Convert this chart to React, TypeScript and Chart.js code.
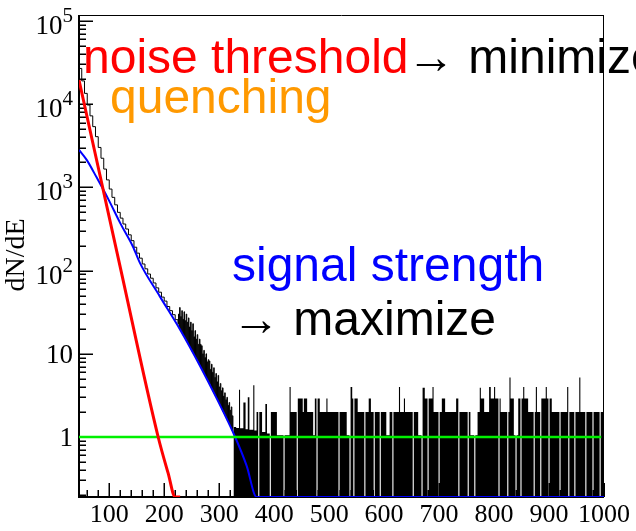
import React, { useEffect, useRef } from 'react';
import { Chart, registerables } from 'chart.js';

Chart.register(...registerables);

// ---- axis ranges & tick labels ----
const X_MIN = 45;
const X_MAX = 1000;
const Y_MIN = 0.19;
const Y_MAX = 1.18e5;
const X_TICK_LABELS = [100, 200, 300, 400, 500, 600, 700, 800, 900, 1000];
const Y_TICK_VALUES = [1, 10, 100, 1000, 10000, 100000];
const Y_TICK_BASE = ['1', '10', '10', '10', '10', '10'];
const Y_TICK_EXP = ['', '', '2', '3', '4', '5'];
const Y_TITLE = 'dN/dE';

// ---- black histogram: steep head (bin left edges / contents) ----
const HEAD_X = [45, 50, 55, 60, 65, 70, 75, 80, 85, 90, 95, 100, 105, 110, 115, 120, 125, 130, 135, 140, 145, 150, 155, 160, 165, 170, 175, 180, 185, 190, 195, 200, 205, 210, 215, 220, 225];
const HEAD_Y = [26900, 19050, 13490, 9770, 7240, 5370, 4070, 3020, 2240, 1660, 1230, 955, 759, 617, 501, 427, 363, 316, 269, 229, 191, 162, 141, 120, 105, 91, 81, 71, 62, 55, 48, 43, 37, 33, 29.5, 25.7, 22.9];

// ---- black histogram: noisy part, 1-unit bins starting at NOISE_START ----
const NOISE_START = 226;
const NOISE_BIN = 1;
const NOISE_Y = [
  30, 20.5, 36, 19.5, 28, 18.5, 33, 17.4, 26, 16.5,
  32, 15.6, 25, 14.8, 30, 14, 24, 13.2, 27, 12.5,
  21, 11.9, 24, 11.2, 19, 10.6, 23, 10.1, 16, 9.5,
  19, 9.0, 15, 8.5, 17, 8.1, 13, 7.6, 15, 7.2,
  13, 6.8, 12.5, 6.4, 10, 6.0, 11, 5.7, 9, 5.4,
  10, 5.0, 8, 4.8, 8.5, 4.5, 8.2, 4.3, 6.5, 4.0,
  7.5, 3.8, 6, 3.5, 6.8, 3.3, 5.2, 3.1, 5.8, 2.9,
  4.6, 2.77, 5.5, 2.6, 4.0, 2.44, 4.4, 2.3, 3.6, 2.15,
  3.9, 2.0, 3.1, 1.9, 3.4, 1.78, 2.8, 1.68, 3.0, 1.56,
  2.4, 1.47, 2.6, 1.38, 2.1, 1.3, 2.3, 1.2, 1.8, 1.15,
];

// ---- black histogram: flat tail (segment start / content, 0 = empty) ----
const TAIL_X = [326, 331, 336, 338, 344, 348, 352, 355, 362, 364, 368, 371, 373, 378, 384, 387, 392, 394, 405, 417, 419, 428, 430, 441, 443, 452, 454, 460, 471, 474, 477, 479, 483, 495, 497, 517, 519, 532, 537, 539, 542, 544, 546, 552, 564, 566, 572, 576, 581, 583, 592, 594, 604, 610, 615, 617, 627, 629, 636, 638, 652, 654, 662, 668, 670, 674, 679, 681, 688, 690, 699, 701, 705, 711, 731, 735, 737, 752, 754, 757, 764, 766, 770, 774, 776, 782, 791, 794, 800, 802, 808, 810, 812, 824, 826, 828, 830, 836, 839, 841, 844, 848, 850, 853, 855, 862, 872, 874, 876, 878, 884, 886, 894, 896, 899, 901, 905, 919, 921, 933, 935, 937, 946, 948, 955, 957, 966, 968, 979, 981, 992, 994, 1000];
const TAIL_Y = [1.32, 1.28, 3.7, 1.27, 2.6, 1.24, 3.0, 1.22, 4.2, 1.2, 2.0, 0, 2.0, 1.15, 2.5, 1.1, 0, 2.0, 1.05, 0, 1.05, 4.0, 2.0, 0, 2.9, 2.0, 2.9, 2.0, 1.05, 2.9, 0, 2.9, 2.0, 2.9, 2.0, 0, 2.0, 1.05, 0, 4.0, 2.9, 0, 2.9, 2.0, 0, 2.0, 2.9, 2.0, 0, 2.0, 0, 2.0, 1.05, 2.0, 0, 2.0, 4.0, 2.0, 2.9, 2.0, 0, 2.0, 1.05, 0, 3.9, 2.9, 0, 2.9, 4.0, 2.0, 0, 2.0, 2.9, 2.0, 2.9, 0, 2.0, 0, 2.0, 1.05, 0, 1.05, 2.0, 3.9, 2.9, 2.0, 4.0, 2.9, 4.0, 2.9, 0, 2.9, 2.0, 0, 2.0, 5.2, 2.9, 1.05, 0, 1.05, 2.9, 0, 2.9, 4.0, 2.9, 2.0, 0, 2.0, 4.0, 2.0, 0, 2.9, 4.0, 2.9, 0, 2.9, 2.0, 0, 2.0, 4.0, 0, 2.0, 0, 2.0, 5.2, 2.0, 0, 2.0, 0, 2.0, 0, 2.0, 2.0];

// ---- fitted components ----
const BLUE_X = [45, 59, 77, 99, 120, 143, 156, 192, 229, 265, 295, 329, 350, 368, 1000];
const BLUE_Y = [2820, 2140, 1320, 708, 372, 195, 123, 49, 19.5, 7.2, 2.95, 1.0, 0.45, 0.19, 0.19];
const RED_X = [45, 120, 189, 207, 220, 229];
const RED_Y = [19500, 110, 1.0, 0.37, 0.19, 0.19];
const GREEN_X = [45, 995];
const GREEN_Y = [1, 1];

// ---- annotations ----
const NOTES = [
  { text: 'noise threshold', color: '#ff0000', x: 83, y: 73 },
  { text: '→ minimize', color: '#000000', x: 407, y: 73 },
  { text: 'quenching', color: '#ff9900', x: 110, y: 113 },
  { text: 'signal strength', color: '#0000ff', x: 232, y: 281 },
  { text: '→ maximize', color: '#000000', x: 232, y: 335 },
];

const zip = (xs: number[], ys: number[]) => xs.map((x, i) => ({ x, y: ys[i] }));

const framePlugin = {
  id: 'rootFrame',
  beforeDatasetsDraw(chart: any) {
    const { ctx, chartArea, scales } = chart;
    const { left, right, top, bottom } = chartArea;
    const xs = scales.x;
    const ys = scales.y;
    ctx.save();
    ctx.strokeStyle = '#000';
    ctx.lineWidth = 1;
    ctx.beginPath();
    ctx.moveTo(left, top + 0.5);
    ctx.lineTo(right, top + 0.5);
    ctx.moveTo(right - 0.5, top);
    ctx.lineTo(right - 0.5, bottom);
    ctx.stroke();
    ctx.lineWidth = 2;
    ctx.beginPath();
    ctx.moveTo(left, top);
    ctx.lineTo(left, bottom);
    ctx.lineTo(right, bottom);
    ctx.stroke();
    ctx.lineWidth = 1.5;
    ctx.beginPath();
    for (let v = 60; v <= X_MAX; v += 20) {
      const px = Math.round(xs.getPixelForValue(v)) + 0.25;
      const len = v % 100 === 0 ? 14 : 7;
      ctx.moveTo(px, bottom);
      ctx.lineTo(px, bottom - len);
    }
    for (let d = -1; d <= 5; d++) {
      for (let k = 1; k <= 9; k++) {
        const v = k * Math.pow(10, d);
        if (v < Y_MIN || v > Y_MAX) continue;
        const py = Math.round(ys.getPixelForValue(v)) + 0.25;
        const len = k === 1 ? 14 : 7;
        ctx.moveTo(left, py);
        ctx.lineTo(left + len, py);
      }
    }
    ctx.stroke();
    ctx.restore();
  },
  afterDraw(chart: any) {
    const { ctx, scales } = chart;
    const ys = scales.y;
    ctx.save();
    ctx.fillStyle = '#000';
    const BASE_FONT = '27px "Liberation Serif"';
    const EXP_FONT = '21px "Liberation Serif"';
    Y_TICK_VALUES.forEach((v, i) => {
      const py = ys.getPixelForValue(v);
      const base = Y_TICK_BASE[i];
      const exp = Y_TICK_EXP[i];
      ctx.font = BASE_FONT;
      const bw = ctx.measureText(base).width;
      ctx.font = EXP_FONT;
      const ew = exp ? ctx.measureText(exp).width : 0;
      const rightEdge = 73;
      const baseY = exp ? py + 13 : py + 9.5;
      ctx.textBaseline = 'alphabetic';
      ctx.textAlign = 'left';
      ctx.font = BASE_FONT;
      ctx.fillText(base, rightEdge - ew - bw, baseY);
      if (exp) {
        ctx.font = EXP_FONT;
        ctx.fillText(exp, rightEdge - ew, baseY - 12);
      }
    });
    ctx.font = '28px "Liberation Serif"';
    ctx.textAlign = 'center';
    ctx.textBaseline = 'alphabetic';
    ctx.translate(24, 255);
    ctx.rotate(-Math.PI / 2);
    ctx.fillText(Y_TITLE, 0, 0);
    ctx.restore();

    ctx.save();
    ctx.font = '48px "Liberation Sans"';
    ctx.textAlign = 'left';
    ctx.textBaseline = 'alphabetic';
    NOTES.forEach((n) => {
      ctx.fillStyle = n.color;
      ctx.fillText(n.text, n.x, n.y);
    });
    ctx.restore();
  },
};

export default function App() {
  const canvasRef = useRef<HTMLCanvasElement | null>(null);

  useEffect(() => {
    const canvas = canvasRef.current;
    if (!canvas) return;

    const headPts = zip(HEAD_X, HEAD_Y).concat(
      NOISE_Y.map((y, i) => ({ x: NOISE_START + i * NOISE_BIN, y }))
    );
    const tailPts = TAIL_X.map((x, i) => ({ x, y: TAIL_Y[i] > 0 ? TAIL_Y[i] : Y_MIN / 4 }));

    const chart = new Chart(canvas, {
      type: 'line',
      data: {
        datasets: [
          {
            label: 'noise',
            data: zip(RED_X, RED_Y),
            borderColor: '#ff0000',
            borderWidth: 3,
            pointRadius: 0,
            fill: false,
            cubicInterpolationMode: 'monotone',
          },
          {
            label: 'background',
            data: zip(GREEN_X, GREEN_Y),
            borderColor: '#00f000',
            borderWidth: 2.5,
            pointRadius: 0,
            fill: false,
          },
          {
            label: 'signal',
            data: zip(BLUE_X, BLUE_Y),
            borderColor: '#0000ff',
            borderWidth: 2,
            pointRadius: 0,
            fill: false,
            cubicInterpolationMode: 'monotone',
          },
          {
            label: 'data head',
            data: headPts,
            borderColor: '#000000',
            borderWidth: 1,
            pointRadius: 0,
            fill: false,
            stepped: true,
          },
          {
            label: 'data tail',
            data: tailPts,
            borderColor: 'rgba(0,0,0,0)',
            borderWidth: 1,
            backgroundColor: '#000000',
            pointRadius: 0,
            fill: 'start',
            stepped: true,
          },
        ],
      },
      options: {
        animation: false,
        responsive: false,
        devicePixelRatio: 1,
        layout: { padding: { left: 0, right: 32, top: 15, bottom: 0 } },
        plugins: {
          legend: { display: false },
          tooltip: { enabled: false },
        },
        scales: {
          x: {
            type: 'linear',
            min: X_MIN,
            max: X_MAX,
            grid: { display: false, drawTicks: false },
            border: { display: false },
            ticks: {
              color: '#000',
              font: { family: 'Liberation Serif', size: 26 },
              padding: 3,
              maxRotation: 0,
              autoSkip: false,
              callback: (v: any) => String(v),
            },
            afterBuildTicks: (s: any) => {
              s.ticks = X_TICK_LABELS.map((v) => ({ value: v }));
            },
            afterFit: (s: any) => {
              s.height = 34;
            },
          },
          y: {
            type: 'logarithmic',
            min: Y_MIN,
            max: Y_MAX,
            grid: { display: false, drawTicks: false },
            border: { display: false },
            ticks: { display: false },
            afterFit: (s: any) => {
              s.width = 79;
            },
          },
        },
      },
      plugins: [framePlugin],
    } as any);

    return () => chart.destroy();
  }, []);

  return (
    <div style={{ position: 'fixed', left: 0, top: 0, width: 636, height: 531, background: '#fff' }}>
      <canvas ref={canvasRef} width={636} height={531} style={{ display: 'block' }} />
    </div>
  );
}
